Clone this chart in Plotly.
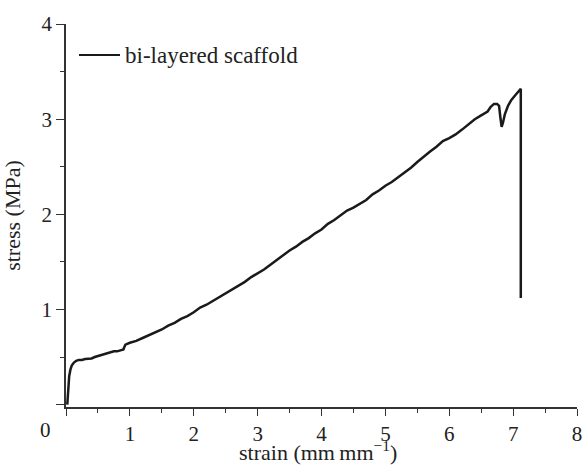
import plotly.graph_objects as go

strain = [0.02, 0.03, 0.04, 0.05, 0.07, 0.09, 0.12, 0.16, 0.20, 0.25, 0.30, 0.35, 0.40, 0.45,
          0.50, 0.55, 0.60, 0.65, 0.70, 0.75, 0.80, 0.85, 0.90, 0.91, 0.93, 1.0, 1.1, 1.2, 1.3,
          1.4, 1.5, 1.6, 1.7, 1.8, 1.9, 2.0, 2.1, 2.2, 2.3, 2.4, 2.5, 2.6, 2.7, 2.8, 2.9, 3.0,
          3.1, 3.2, 3.3, 3.4, 3.5, 3.6, 3.7, 3.8, 3.9, 4.0, 4.1, 4.2, 4.3, 4.4, 4.5, 4.6, 4.7,
          4.8, 4.9, 5.0, 5.1, 5.2, 5.3, 5.4, 5.5, 5.6, 5.7, 5.8, 5.9, 6.0, 6.1, 6.2, 6.3, 6.4,
          6.5, 6.6, 6.65, 6.7, 6.75, 6.78, 6.80, 6.82, 6.84, 6.87, 6.92, 6.97, 7.02, 7.07,
          7.12, 7.12]
stress = [0.0, 0.12, 0.22, 0.30, 0.37, 0.41, 0.44, 0.46, 0.47, 0.47, 0.48, 0.48, 0.485, 0.50,
          0.51, 0.52, 0.53, 0.54, 0.55, 0.56, 0.56, 0.57, 0.58, 0.60, 0.63, 0.65, 0.67, 0.70,
          0.73, 0.76, 0.79, 0.83, 0.86, 0.90, 0.93, 0.97, 1.02, 1.05, 1.09, 1.13, 1.17, 1.21,
          1.25, 1.29, 1.34, 1.38, 1.42, 1.47, 1.52, 1.57, 1.62, 1.66, 1.71, 1.75, 1.80, 1.84,
          1.90, 1.94, 1.99, 2.04, 2.07, 2.11, 2.15, 2.21, 2.25, 2.30, 2.34, 2.39, 2.44, 2.49,
          2.55, 2.61, 2.66, 2.71, 2.77, 2.80, 2.84, 2.89, 2.94, 3.00, 3.04, 3.08, 3.13, 3.16,
          3.16, 3.14, 3.02, 2.92, 2.96, 3.05, 3.14, 3.20, 3.24, 3.28, 3.32, 1.12]

x_ticks = [0, 1, 2, 3, 4, 5, 6, 7, 8]
x_ticktext = ["", "1", "2", "3", "4", "5", "6", "7", "8"]
y_ticks = [0, 1, 2, 3, 4]
y_ticktext = ["", "1", "2", "3", "4"]
series_name = "bi-layered scaffold"
x_title = "strain (mm\u2009mm<sup>\u22121</sup>)"
y_title = "stress (MPa)"

FONT = "Liberation Serif, Times New Roman, serif"
AX = "#333333"

fig = go.Figure()
fig.add_trace(go.Scatter(x=strain, y=stress, mode="lines",
                         line=dict(color="#1a1a1a", width=2.5),
                         name=series_name, showlegend=False))

fig.update_layout(
    width=585, height=468,
    margin=dict(l=66, r=8, t=24, b=61),
    paper_bgcolor="white", plot_bgcolor="white",
    font=dict(family=FONT, size=20, color="#222222"),
    xaxis=dict(range=[0, 8], tickvals=x_ticks, ticktext=x_ticktext, automargin=False,
               tickfont=dict(size=21),
               showgrid=False, zeroline=False, showline=True, linecolor=AX, linewidth=1.5,
               ticks="outside", ticklen=7, tickwidth=1.3, tickcolor=AX,
               minor=dict(dtick=0.5, ticks="outside", ticklen=4, tickwidth=1.2, tickcolor=AX, showgrid=False)),
    yaxis=dict(range=[-0.025, 4], tickvals=y_ticks, ticktext=y_ticktext, automargin=False,
               tickfont=dict(size=21),
               showgrid=False, zeroline=False, showline=True, linecolor=AX, linewidth=1.5,
               ticks="outside", ticklen=8, tickwidth=1.3, tickcolor=AX,
               minor=dict(dtick=0.5, ticks="outside", ticklen=4, tickwidth=1.2, tickcolor=AX, showgrid=False),
               title=dict(text=y_title, font=dict(size=22), standoff=15)),
)

# x axis title
fig.add_annotation(x=(318 - 66) / 511, y=(407 - 451) / 383, xref="paper", yref="paper",
                   text=x_title, showarrow=False, font=dict(size=22),
                   xanchor="center", yanchor="middle")

# corner "0" label
fig.add_annotation(x=(45 - 66) / 511, y=(407 - 430) / 383, xref="paper", yref="paper",
                   text="0", showarrow=False, font=dict(size=21), xanchor="center", yanchor="middle")

# legend
fig.add_shape(type="line", xref="paper", yref="paper",
              x0=(79 - 66) / 511, x1=(120 - 66) / 511, y0=(407 - 55) / 383, y1=(407 - 55) / 383,
              line=dict(color="#1a1a1a", width=1.8))
fig.add_annotation(x=(123 - 66) / 511, y=(407 - 56) / 383, xref="paper", yref="paper",
                   text=series_name, showarrow=False, xanchor="left", yanchor="middle",
                   font=dict(size=23))

fig.write_html("out.html")
